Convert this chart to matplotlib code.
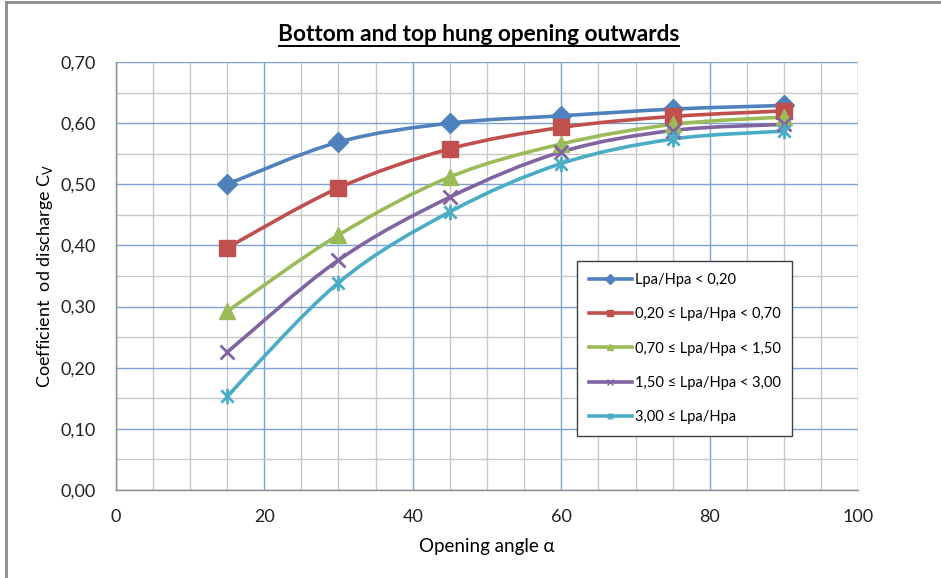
import matplotlib
matplotlib.use("Agg")
import matplotlib.pyplot as plt
import numpy as np
from matplotlib.path import Path
from matplotlib.patches import PathPatch
from matplotlib.lines import Line2D
from matplotlib.ticker import MultipleLocator, FuncFormatter

plt.rcParams["font.family"] = ["Lato", "DejaVu Sans"]

# Data
angles = [15, 30, 45, 60, 75, 90]
cv_lt_020 = [0.500, 0.569, 0.600, 0.612, 0.623, 0.629]
cv_020_070 = [0.396, 0.494, 0.558, 0.593, 0.611, 0.620]
cv_070_150 = [0.292, 0.417, 0.512, 0.566, 0.598, 0.610]
cv_150_300 = [0.225, 0.376, 0.479, 0.553, 0.588, 0.598]
cv_ge_300 = [0.153, 0.339, 0.455, 0.534, 0.574, 0.587]

labels = [
    "Lpa/Hpa < 0,20",
    "0,20 ≤ Lpa/Hpa < 0,70",
    "0,70 ≤ Lpa/Hpa < 1,50",
    "1,50 ≤ Lpa/Hpa < 3,00",
    "3,00 ≤ Lpa/Hpa",
]
colors = ["#4F81BD", "#C0504D", "#9BBB59", "#8064A2", "#4BACC6"]

# Excel-style star marker: an "x" with a vertical bar
star = Path(
    [(-1, -1), (1, 1), (-1, 1), (1, -1), (0, -1.25), (0, 1.25)],
    [Path.MOVETO, Path.LINETO, Path.MOVETO, Path.LINETO, Path.MOVETO, Path.LINETO],
)
markers = ["D", "s", "^", "x", star]
msizes = [10, 11, 11, 10, 11]


def smooth_path(xs, ys):
    """Bezier path through the points, like Excel's smoothed line."""
    pts = np.column_stack([xs, ys]).astype(float)
    verts = [pts[0]]
    codes = [Path.MOVETO]
    n = len(pts)
    for i in range(n - 1):
        p0 = pts[max(i - 1, 0)]
        p1 = pts[i]
        p2 = pts[i + 1]
        p3 = pts[min(i + 2, n - 1)]
        c1 = p1 + (p2 - p0) / 6.0
        c2 = p2 - (p3 - p1) / 6.0
        verts += [c1, c2, p2]
        codes += [Path.CURVE4] * 3
    return Path(verts, codes)


fig = plt.figure(figsize=(9.41, 5.78), dpi=100)
ax = fig.add_axes([0.1228, 0.1522, 0.7895, 0.7405])

series = [cv_lt_020, cv_020_070, cv_070_150, cv_150_300, cv_ge_300]
handles = []
for vals, lab, col, mk, ms in zip(series, labels, colors, markers, msizes):
    ax.add_patch(PathPatch(smooth_path(angles, vals), facecolor="none",
                           edgecolor=col, lw=2.6, zorder=3))
    mew = 2.0 if mk in ("x", star) else 1
    ax.plot(angles, vals, linestyle="none", marker=mk, markersize=ms,
            color=col, markeredgewidth=mew, zorder=4)
    handles.append(Line2D([], [], color=col, lw=2.6, marker=mk, markersize=5,
                          markeredgewidth=1))

ax.set_xlim(0, 100)
ax.set_ylim(0, 0.70)
ax.xaxis.set_major_locator(MultipleLocator(20))
ax.xaxis.set_minor_locator(MultipleLocator(5))
ax.yaxis.set_major_locator(MultipleLocator(0.10))
ax.yaxis.set_minor_locator(MultipleLocator(0.05))
ax.yaxis.set_major_formatter(FuncFormatter(lambda v, p: f"{v:.2f}".replace(".", ",")))

ax.grid(which="minor", color="#C8C8C8", lw=1.0, zorder=0)
ax.grid(which="major", color="#7DA3D6", lw=1.0, zorder=1)
ax.set_axisbelow(True)
ax.tick_params(which="both", length=0, labelsize=13, colors="#222222")
ax.tick_params(axis="y", pad=14)
ax.tick_params(axis="x", pad=14)

for side in ("top", "right"):
    ax.spines[side].set_visible(False)
for side in ("left", "bottom"):
    ax.spines[side].set_color("#8C8C8C")
    ax.spines[side].set_linewidth(1.0)

ax.set_xlabel("Opening angle α", fontsize=13.5, labelpad=9)
ax.set_ylabel(r"Coefficient  od discharge C$_\mathregular{V}$", fontsize=13, labelpad=4)

fig.text(0.509, 0.9285, "Bottom and top hung opening outwards", ha="center",
         va="baseline", fontsize=16.3, fontweight="bold")
# underline for the title
fig.add_artist(Line2D([0.297, 0.722], [0.921, 0.921], color="black", lw=1.4))

leg = ax.legend(handles=handles, labels=labels, loc="upper left",
                bbox_to_anchor=(0.621, 0.535), borderaxespad=0, fontsize=10.5,
                frameon=True, fancybox=False, edgecolor="#404040", framealpha=1,
                handlelength=3.0, handletextpad=0.15, labelspacing=1.4,
                borderpad=0.8)
leg.get_frame().set_linewidth(1.0)
leg.set_zorder(6)

# chart-area border (left and top visible)
fig.add_artist(Line2D([0.0065, 0.0065], [0.0, 0.996], color="#8C8C8C", lw=2))
fig.add_artist(Line2D([0.0065, 1.0], [0.996, 0.996], color="#8C8C8C", lw=2))

fig.savefig("out.png", dpi=100)
